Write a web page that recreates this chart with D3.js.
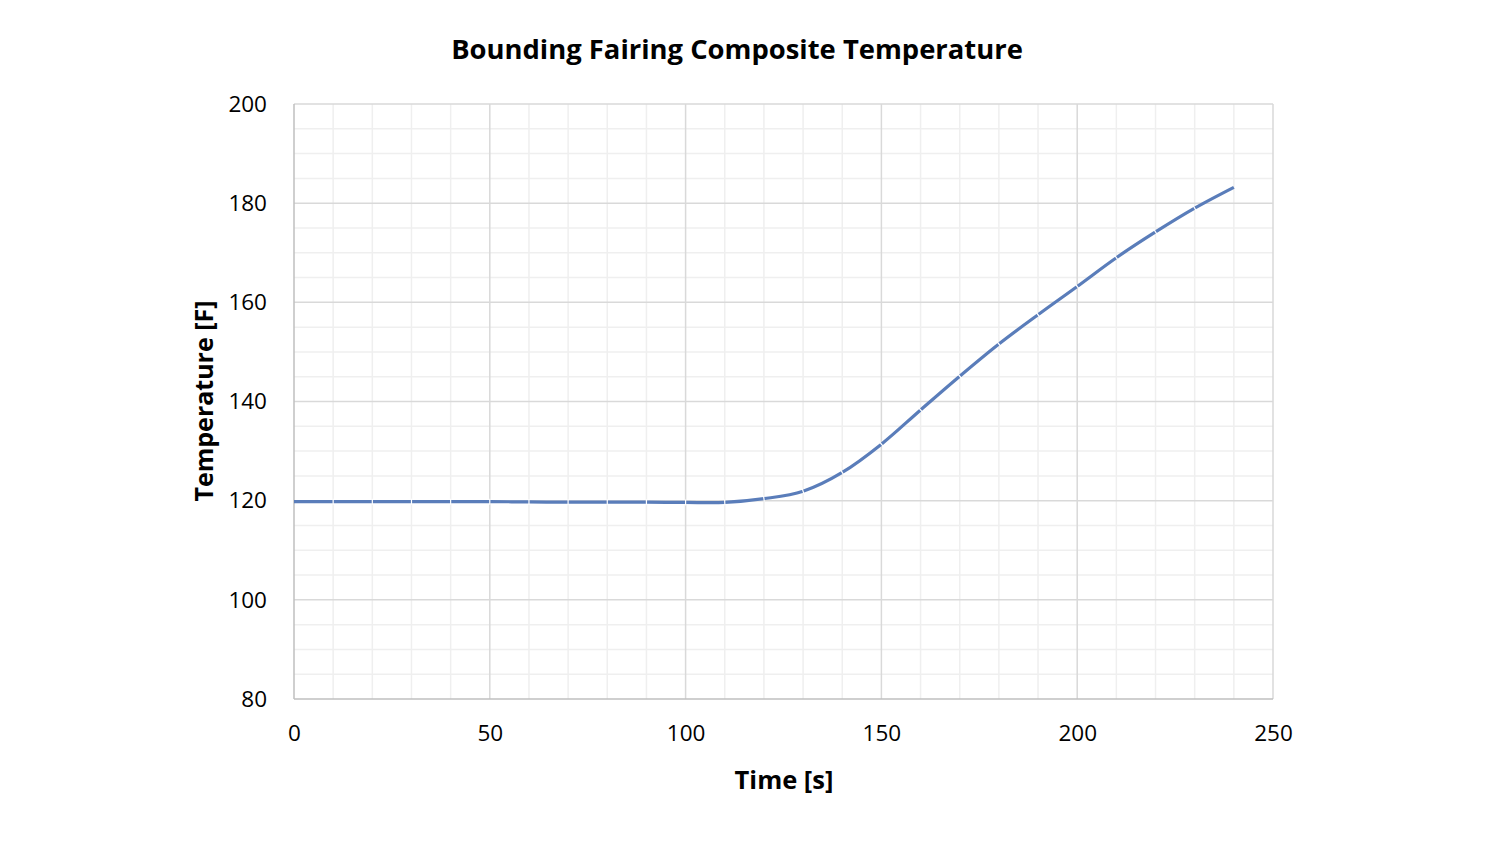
<!DOCTYPE html>
<html lang="en">
<head>
<meta charset="UTF-8">
<title>Bounding Fairing Composite Temperature</title>
<script src="https://d3js.org/d3.v7.min.js"></script>
<style>
  body { margin: 0; background: #fff; }
  text { font-family: "Open Sans", "Noto Sans", sans-serif; fill: #000; }
</style>
</head>
<body>
<div id="chart"></div>
<script>
// time [s] and temperature [F], every 10 s
var times = [0, 10, 20, 30, 40, 50, 60, 70, 80, 90, 100, 110, 120,
             130, 140, 150, 160, 170, 180, 190, 200, 210, 220, 230, 240];
var temps = [119.8, 119.8, 119.8, 119.8, 119.8, 119.8, 119.75, 119.7, 119.7, 119.7, 119.65, 119.65, 120.4,
             121.9, 125.7, 131.4, 138.3, 145.1, 151.6, 157.5, 163.2, 169.0, 174.2, 179.0, 183.2];
var xTicks = [0, 50, 100, 150, 200, 250];
var yTicks = [80, 100, 120, 140, 160, 180, 200];

var W = 1506, H = 848;
var margin = {top: 104, right: 233, bottom: 149, left: 294};
var width = W - margin.left - margin.right,
    height = H - margin.top - margin.bottom;

var svg = d3.select("#chart").append("svg")
    .attr("width", W)
    .attr("height", H);

var g = svg.append("g")
    .attr("transform", "translate(" + margin.left + "," + margin.top + ")");

var x = d3.scaleLinear().domain([0, 250]).range([0, width]);
var y = d3.scaleLinear().domain([80, 200]).range([height, 0]);

// minor grid
g.append("g").selectAll("line")
  .data(d3.range(0, 251, 10).filter(function(d) { return d % 50 != 0; }))
  .enter().append("line")
    .attr("x1", d => x(d)).attr("x2", d => x(d))
    .attr("y1", 0).attr("y2", height)
    .attr("stroke", "#efefef").attr("stroke-width", 1.5);
g.append("g").selectAll("line")
  .data(d3.range(80, 201, 5).filter(function(d) { return d % 20 != 0; }))
  .enter().append("line")
    .attr("x1", 0).attr("x2", width)
    .attr("y1", d => y(d)).attr("y2", d => y(d))
    .attr("stroke", "#efefef").attr("stroke-width", 1.5);

// major grid
g.append("g").selectAll("line")
  .data(xTicks.slice(1))
  .enter().append("line")
    .attr("x1", d => x(d)).attr("x2", d => x(d))
    .attr("y1", 0).attr("y2", height)
    .attr("stroke", "#d9d9d9").attr("stroke-width", 1.5);
g.append("g").selectAll("line")
  .data(yTicks.slice(1))
  .enter().append("line")
    .attr("x1", 0).attr("x2", width)
    .attr("y1", d => y(d)).attr("y2", d => y(d))
    .attr("stroke", "#d9d9d9").attr("stroke-width", 1.5);

// axis lines
g.append("line").attr("x1", 0).attr("x2", 0).attr("y1", 0).attr("y2", height)
  .attr("stroke", "#bfbfbf").attr("stroke-width", 1.5);
g.append("line").attr("x1", 0).attr("x2", width).attr("y1", height).attr("y2", height)
  .attr("stroke", "#bfbfbf").attr("stroke-width", 1.5);

// axes (labels only)
var xAxis = g.append("g")
    .attr("transform", "translate(0," + height + ")")
    .call(d3.axisBottom(x).tickValues(xTicks).tickSize(0).tickPadding(26));
var yAxis = g.append("g")
    .call(d3.axisLeft(y).tickValues(yTicks).tickSize(0).tickPadding(27));
[xAxis, yAxis].forEach(function(a) {
  a.select(".domain").remove();
  a.selectAll("text")
    .style("font-family", "'Open Sans', sans-serif")
    .style("font-size", "22.5px")
    .attr("fill", "#000");
});

// smoothed series
var pts = times.map(function(t, i) { return [x(t), y(temps[i])]; });
var line = d3.line().curve(d3.curveCatmullRom.alpha(0));
g.append("path")
  .datum(pts)
  .attr("d", line)
  .attr("fill", "none")
  .attr("stroke", "#5a7dba")
  .attr("stroke-width", 3.2);

// thin white breaks where the segments join (as in the reference)
g.append("g").selectAll("line")
  .data(pts.slice(1, -1).map(function(p, i) {
    var a = pts[i], b = pts[i + 2];
    var dx = b[0] - a[0], dy = b[1] - a[1];
    var len = Math.sqrt(dx * dx + dy * dy);
    return {p: p, nx: -dy / len, ny: dx / len};
  }))
  .enter().append("line")
    .attr("x1", d => d.p[0] - d.nx * 3).attr("y1", d => d.p[1] - d.ny * 3)
    .attr("x2", d => d.p[0] + d.nx * 3).attr("y2", d => d.p[1] + d.ny * 3)
    .attr("stroke", "#fff")
    .attr("stroke-width", 1.2);

// title and axis titles
svg.append("text")
  .attr("x", 737).attr("y", 59)
  .attr("text-anchor", "middle")
  .style("font-size", "27.4px").style("font-weight", "bold")
  .text("Bounding Fairing Composite Temperature");

svg.append("text")
  .attr("x", 784).attr("y", 789)
  .attr("text-anchor", "middle")
  .style("font-size", "25.5px").style("font-weight", "bold")
  .text("Time [s]");

svg.append("text")
  .attr("transform", "translate(213,401) rotate(-90)")
  .attr("text-anchor", "middle")
  .style("font-size", "25px").style("font-weight", "bold")
  .text("Temperature [F]");
</script>
</body>
</html>
